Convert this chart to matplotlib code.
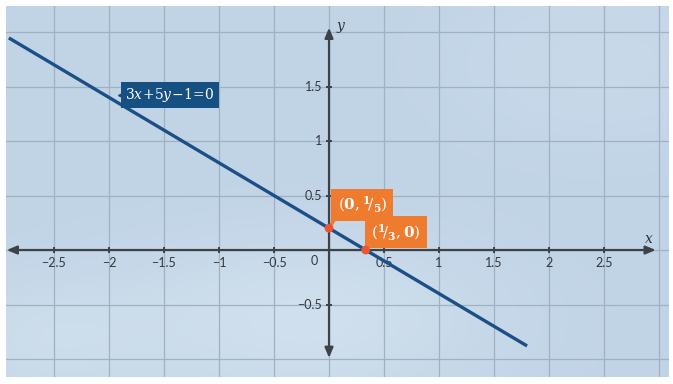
import numpy as np
import matplotlib
matplotlib.use("Agg")
import matplotlib.pyplot as plt
from matplotlib.colors import LinearSegmentedColormap

# line 3x+5y-1=0, drawn between its visible end points
line_x = [-2.91, 1.8]
line_y = [1.946, -0.88]
line_label = r"$3x\!+\!5y\!-\!1\!=\!0$"
label_pos = (-1.445, 1.42)

# intercepts
pts_x = [0.0, 1.0 / 3.0]
pts_y = [0.2, 0.0]
pts_labels = [r"$\left(\mathbf{0},{}^{\mathbf{1}}\!/_{\mathbf{5}}\right)$",
              r"$\left({}^{\mathbf{1}}\!/_{\mathbf{3}},\mathbf{0}\right)$"]

xticks = [-2.5, -2, -1.5, -1, -0.5, 0.5, 1, 1.5, 2, 2.5]
xtick_labels = ["\u22122.5", "\u22122", "\u22121.5", "\u22121", "\u22120.5", "0.5", "1", "1.5", "2", "2.5"]
yticks = [-0.5, 0.5, 1, 1.5]
ytick_labels = ["\u22120.5", "0.5", "1", "1.5"]
grid_x = np.arange(-2.5, 3.01, 0.5)
grid_y = np.arange(-1.0, 2.01, 0.5)

plt.rcParams["font.family"] = ["Lato", "DejaVu Sans"]
plt.rcParams["mathtext.fontset"] = "dejavuserif"

fig = plt.figure(figsize=(6.73, 3.84), dpi=100)
ax = fig.add_axes([6 / 673, 7 / 384, 663 / 673, 371 / 384])
xlim = (-2.936, 3.09)
ylim = (-1.165, 2.239)
ax.set_xlim(*xlim)
ax.set_ylim(*ylim)
ax.set_axis_off()

# soft bluish background
gx, gy = np.meshgrid(np.linspace(0, 1, 200), np.linspace(0, 1, 120))
field = 0.55 * np.exp(-((gx - 0.45) ** 2 / 0.08 + (gy - 0.15) ** 2 / 0.05))
field += 0.35 * np.exp(-((gx - 0.05) ** 2 / 0.03 + (gy - 0.1) ** 2 / 0.03))
field += 0.25 * np.exp(-((gx - 0.9) ** 2 / 0.05 + (gy - 0.85) ** 2 / 0.05))
bg = LinearSegmentedColormap.from_list("bg", ["#c1d4e6", "#d7e5f1"])
ax.imshow(field, extent=(*xlim, *ylim), origin="lower", cmap=bg, vmin=0, vmax=0.8,
          aspect="auto", zorder=0)

for gxv in grid_x:
    ax.axvline(gxv, color="#a0b1c2", lw=0.9, zorder=1)
for gyv in grid_y:
    ax.axhline(gyv, color="#a0b1c2", lw=0.9, zorder=1)

axis_col = "#3d4248"
ax.annotate("", xy=(2.97, 0), xytext=(-2.93, 0),
            arrowprops=dict(arrowstyle="<|-|>,head_length=0.6,head_width=0.25", color=axis_col,
                            lw=1.6, shrinkA=0, shrinkB=0), zorder=3)
ax.annotate("", xy=(0, 2.04), xytext=(0, -0.99),
            arrowprops=dict(arrowstyle="<|-|>,head_length=0.6,head_width=0.25", color=axis_col,
                            lw=1.6, shrinkA=0, shrinkB=0), zorder=3)

ax.plot(xticks, [0] * len(xticks), ls="none", marker="|", ms=5, mew=1.4, color=axis_col, zorder=3)
ax.plot([0] * len(yticks), yticks, ls="none", marker="_", ms=5, mew=1.4, color=axis_col, zorder=3)
for xv, lab in zip(xticks, xtick_labels):
    ax.annotate(lab, (xv, 0), xytext=(0, -9), textcoords="offset points", ha="center", va="center",
                fontsize=9, color="#33383e", zorder=4)
for yv, lab in zip(yticks, ytick_labels):
    ax.annotate(lab, (0, yv), xytext=(-5, 0), textcoords="offset points", ha="right", va="center",
                fontsize=9, color="#33383e", zorder=4)
ax.annotate("0", (0, 0), xytext=(-11, -8), textcoords="offset points", ha="center", va="center",
            fontsize=9, color="#33383e", zorder=4)
ax.annotate(r"$x$", (2.97, 0), xytext=(-5, 8), textcoords="offset points", ha="center",
            va="center", fontsize=10, color="#2f3338", zorder=4)
ax.annotate(r"$y$", (0, 2.04), xytext=(9, 0), textcoords="offset points", ha="center",
            va="center", fontsize=10, color="#2f3338", zorder=4)

line_col = "#1b4f85"
ax.plot(line_x, line_y, color=line_col, lw=2.4, solid_capstyle="butt", zorder=5)
ax.text(*label_pos, line_label, ha="center", va="center", fontsize=10, color="white", zorder=6,
        bbox=dict(boxstyle="square,pad=0.3", fc="#164f82", ec="none"))
ax.plot([label_pos[0] - 0.45], [label_pos[1]], marker="<", ms=5, color="#164f82", ls="none", zorder=6)

orange = "#ef7b2f"
offsets = [(24, 17), (22, 13)]
for px, py, lab, off in zip(pts_x, pts_y, pts_labels, offsets):
    ax.annotate(lab, (px, py), xytext=off, textcoords="offset points", ha="center", va="center",
                fontsize=11, color="white", zorder=7,
                bbox=dict(boxstyle="square,pad=0.4", fc=orange, ec="none"),
                arrowprops=dict(arrowstyle="-", color=orange, lw=2.5, shrinkA=0, shrinkB=3,
                                relpos=(0, 0)))
ax.scatter(pts_x, pts_y, s=40, color="#ea5535", zorder=8, edgecolors="none")

fig.savefig("out.png", dpi=100, facecolor="white")
